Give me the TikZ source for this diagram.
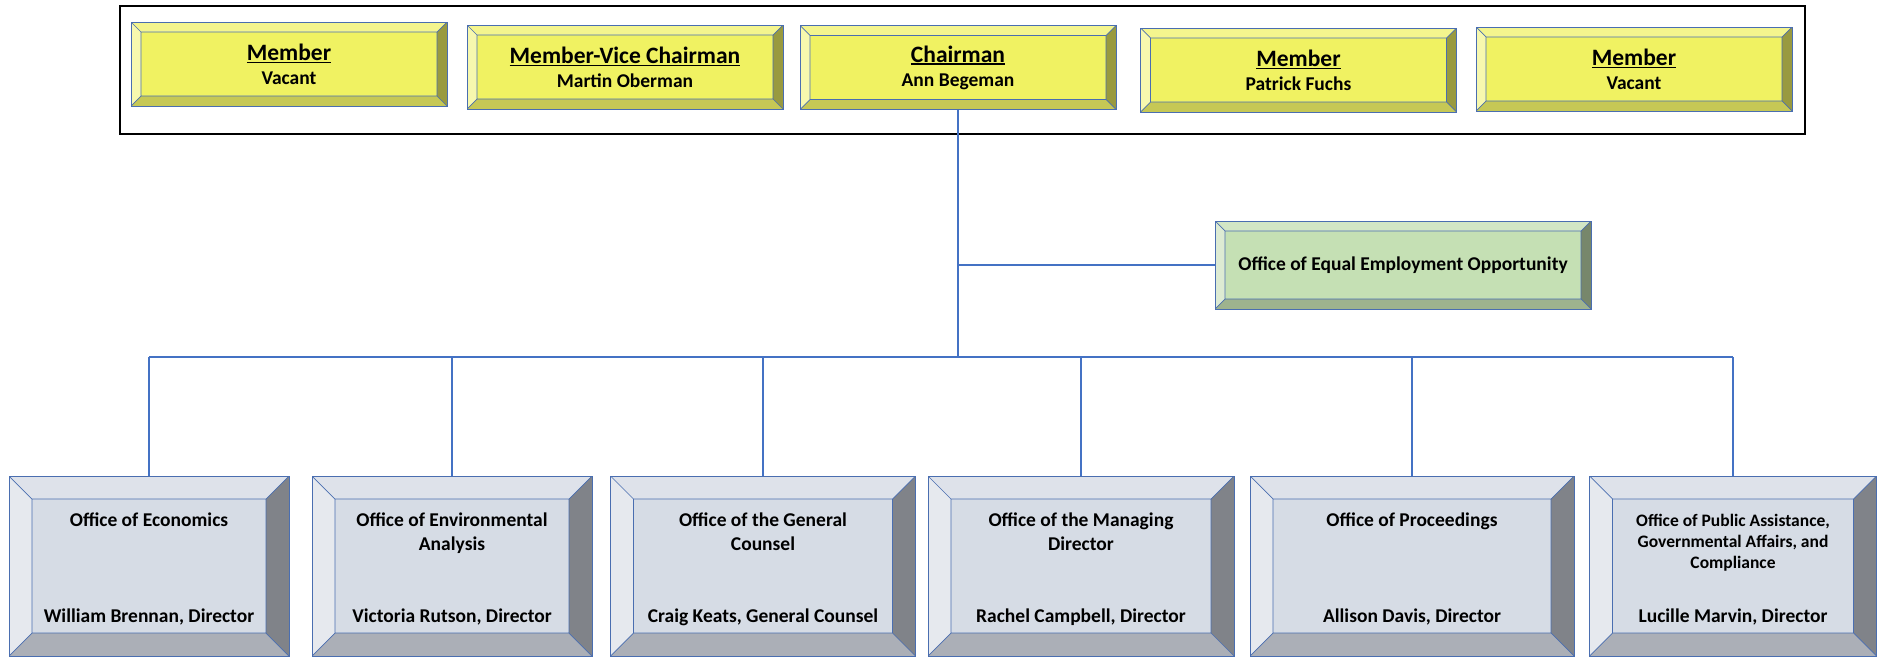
\documentclass[tikz,border=0pt]{standalone}
\usepackage{fontspec}
\setmainfont{Carlito}
\usepackage{tikz}

\definecolor{edge}{HTML}{4A6EB0}
\definecolor{link}{HTML}{4472C4}
\definecolor{yface}{HTML}{F0F262}
\definecolor{ytop}{HTML}{F4F58E}
\definecolor{yleft}{HTML}{F7F8AE}
\definecolor{ybot}{HTML}{C6C855}
\definecolor{yright}{HTML}{999A3F}
\definecolor{gface}{HTML}{D6DCE5}
\definecolor{gtop}{HTML}{DEE2EA}
\definecolor{gleft}{HTML}{E6E9EE}
\definecolor{gbot}{HTML}{ABAFB7}
\definecolor{gright}{HTML}{808389}
\definecolor{eface}{HTML}{C5E0B4}
\definecolor{etop}{HTML}{D2E6C5}
\definecolor{eleft}{HTML}{DDEBD3}
\definecolor{ebot}{HTML}{9EB38E}
\definecolor{eright}{HTML}{77876B}

\newcommand{\headline}[1]{\setbox0\hbox{#1}\rlap{\rule[-3pt]{\wd0}{1.6pt}}\box0}
\newcommand{\officetext}[2]{\parbox[c][121pt][s]{262pt}{\vspace*{8pt}\centering\strut #1\par\vfill\strut #2\par}}

\tikzset{
  bevw/.store in=\bevw, bevw=10pt,
  bevelbox/.style n args={5}{rectangle, draw=edge, line width=0.7pt, fill=#1, inner sep=0pt,
    path picture={
      \coordinate (nw) at (path picture bounding box.north west);
      \coordinate (ne) at (path picture bounding box.north east);
      \coordinate (sw) at (path picture bounding box.south west);
      \coordinate (se) at (path picture bounding box.south east);
      \coordinate (inw) at ([shift={(\bevw,-\bevw)}]nw);
      \coordinate (ine) at ([shift={(-\bevw,-\bevw)}]ne);
      \coordinate (isw) at ([shift={(\bevw,\bevw)}]sw);
      \coordinate (ise) at ([shift={(-\bevw,\bevw)}]se);
      \fill[#2] (nw) -- (ne) -- (ine) -- (inw) -- cycle;
      \fill[#3] (nw) -- (inw) -- (isw) -- (sw) -- cycle;
      \fill[#4] (sw) -- (isw) -- (ise) -- (se) -- cycle;
      \fill[#5] (ne) -- (se) -- (ise) -- (ine) -- cycle;
      \draw[edge, line width=0.7pt] (inw) rectangle (ise) (nw) -- (inw) (ne) -- (ine) (sw) -- (isw) (se) -- (ise);
    }}
}

\begin{document}
\begin{tikzpicture}[x=1pt, y=-1pt,
    memberbox/.style={bevelbox={yface}{ytop}{yleft}{ybot}{yright}, bevw=10pt, minimum width=316pt, minimum height=84pt, align=center, font=\fontsize{19.5}{24}\selectfont\bfseries},
    eeobox/.style={bevelbox={eface}{etop}{eleft}{ebot}{eright}, bevw=10pt, minimum width=376pt, minimum height=88pt, font=\fontsize{19.5}{24}\selectfont\bfseries},
    officebox/.style={bevelbox={gface}{gtop}{gleft}{gbot}{gright}, bevw=23pt, minimum height=180pt, font=\fontsize{19.5}{24}\selectfont\bfseries},
    conn/.style={draw=link, line width=1.8pt}]
  \useasboundingbox (0,0) rectangle (1881,657);

  % commission
  \node[draw=black, line width=1.6pt, minimum width=1685pt, minimum height=128pt, inner sep=0pt] (board) at (962.5,70) {};
  \node[memberbox] (mema) at (289,64) {{\fontsize{23.5}{24}\selectfont\headline{Member}}\\ Vacant};
  \node[memberbox] (vice) at (625,67) {{\fontsize{23.5}{24}\selectfont\headline{Member-Vice Chairman}}\\ Martin Oberman};
  \node[memberbox] (chair) at (958,67.5) {{\fontsize{23.5}{24}\selectfont\headline{Chairman}}\\ Ann Begeman};
  \node[memberbox] (memb) at (1298.5,70) {{\fontsize{23.5}{24}\selectfont\headline{Member}}\\ Patrick Fuchs};
  \node[memberbox] (memc) at (1634,69) {{\fontsize{23.5}{24}\selectfont\headline{Member}}\\ Vacant};

  % staff office
  \node[eeobox] (eeo) at (1403,265) {Office of Equal Employment Opportunity};

  % offices
  \node[officebox, minimum width=280pt] (econ) at (149,566) {\officetext{Office of Economics}{William Brennan, Director}};
  \node[officebox, minimum width=280pt] (env) at (452,566) {\officetext{Office of Environmental\\ Analysis}{Victoria Rutson, Director}};
  \node[officebox, minimum width=305pt] (gc) at (763,566) {\officetext{Office of the General\\ Counsel}{Craig Keats, General Counsel}};
  \node[officebox, minimum width=306pt] (md) at (1081,566) {\officetext{Office of the Managing\\ Director}{Rachel Campbell, Director}};
  \node[officebox, minimum width=324pt] (proc) at (1412,566) {\officetext{Office of Proceedings}{Allison Davis, Director}};
  \node[officebox, minimum width=287pt] (pa) at (1733,566) {\officetext{{\fontsize{17.5}{21}\selectfont Office of Public Assistance,\\ Governmental Affairs, and\\ Compliance\par}}{Lucille Marvin, Director}};

  \coordinate (bus) at (958,357);

  \draw[conn] (chair.south) -- (bus);
  \draw[conn] (chair.south |- eeo.west) -- (eeo.west);
  \draw[conn] (econ.north |- bus) -- (pa.north |- bus);
  \draw[conn] (econ.north |- bus) -- (econ.north);
  \draw[conn] (env.north |- bus) -- (env.north);
  \draw[conn] (gc.north |- bus) -- (gc.north);
  \draw[conn] (md.north |- bus) -- (md.north);
  \draw[conn] (proc.north |- bus) -- (proc.north);
  \draw[conn] (pa.north |- bus) -- (pa.north);
\end{tikzpicture}
\end{document}
